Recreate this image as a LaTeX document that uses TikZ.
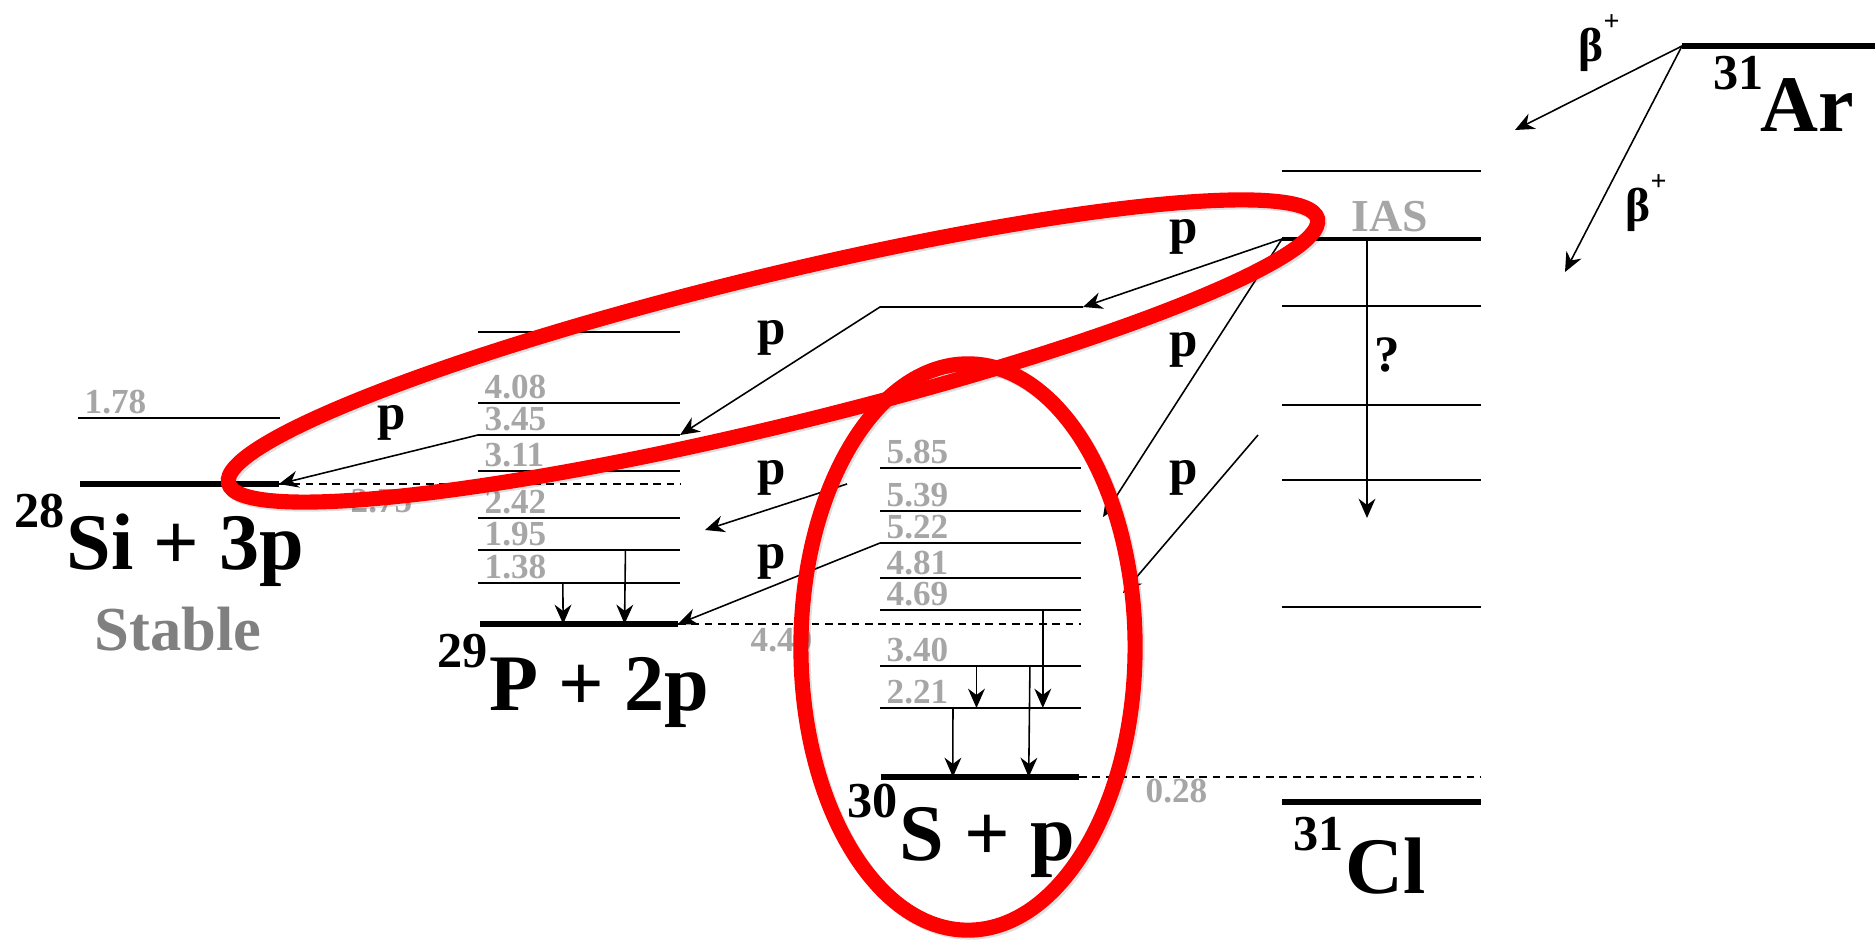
\documentclass[tikz,border=0pt]{standalone}
\usepackage{fontspec}
\setmainfont{Liberation Serif}
\usetikzlibrary{calc,arrows.meta}
\definecolor{lvlGray}{RGB}{166,166,166}
\definecolor{stableGray}{RGB}{128,128,128}
\definecolor{ringRed}{RGB}{255,0,0}
\newcommand{\nuclide}[2]{\raisebox{12pt}{\fontsize{14.3}{15}\selectfont #1}\kern0.5pt#2}
\newcommand{\betaplus}{β\raisebox{9pt}{\fontsize{8}{8}\selectfont +}}
\newcommand{\plainlevel}[4]{% name, x left, x right, y
  \coordinate (#1l) at (#2,#4);
  \coordinate (#1r) at (#3,#4);
  \draw[line width=0.55pt] (#1l) -- (#1r);}
\newcommand{\enlevel}[5]{% name, x left, x right, y, energy
  \plainlevel{#1}{#2}{#3}{#4}
  \node[lvlnum, anchor=base west] (#1t) at ($(#1l)+(6,-4)$) {#5};}
\newcommand{\groundlevel}[4]{%
  \coordinate (#1l) at (#2,#4);
  \coordinate (#1r) at (#3,#4);
  \draw[line width=1.6pt] (#1l) -- (#1r);}

\begin{document}
\begin{tikzpicture}[x=0.01cm, y=-0.01cm,
  lvlnum/.style={font=\fontsize{10}{12}\selectfont\bfseries, text=lvlGray, inner sep=0pt},
  decay/.style={line width=0.45pt, -{Stealth[length=5.5pt, width=4.8pt, inset=1.8pt]}},
  sep/.style={line width=0.45pt, dash pattern=on 2.2pt off 1.6pt},
  nucl/.style={font=\fontsize{22.8}{26}\selectfont\bfseries, inner sep=0pt, anchor=base west},
  plab/.style={font=\fontsize{14.5}{16}\selectfont\bfseries, inner sep=0pt},
  ring/.style={draw=ringRed, line width=4.3pt}]
  \useasboundingbox (0,0) rectangle (1875,940);

  % 28Si + 3p
  \enlevel{Si1}{78}{280}{418}{1.78}
  \groundlevel{SiG}{80}{279}{484}
  \node[nucl] (Si) at (14,570) {\nuclide{28}{Si + 3p}};
  \node[font=\fontsize{17.8}{20}\selectfont\bfseries, text=stableGray,
    inner sep=0pt, anchor=base] (stable) at (178,651) {Stable};

  % 29P + 2p
  \plainlevel{P0}{478}{680}{332}
  \enlevel{P1}{478}{680}{403}{4.08}
  \enlevel{P2}{478}{680}{435}{3.45}
  \enlevel{P3}{478}{680}{471}{3.11}
  \enlevel{P4}{478}{680}{518}{2.42}
  \enlevel{P5}{478}{680}{550}{1.95}
  \enlevel{P6}{478}{680}{583}{1.38}
  \groundlevel{PG}{480}{678}{624}
  \node[nucl] (P) at (437,710) {\nuclide{29}{P + 2p}};

  % 30S + p
  \enlevel{S1}{880}{1081}{468}{5.85}
  \enlevel{S2}{880}{1081}{511}{5.39}
  \enlevel{S3}{880}{1081}{543}{5.22}
  \enlevel{S4}{880}{1081}{578}{4.81}
  \enlevel{S5}{880}{1081}{610}{4.69}
  \enlevel{S6}{880}{1081}{666}{3.40}
  \enlevel{S7}{880}{1081}{708}{2.21}
  \groundlevel{SG}{881}{1079}{777}
  \node[nucl] (S) at (847,860) {\nuclide{30}{S + p}};

  % 31Cl
  \plainlevel{C1}{1282}{1481}{171}
  \coordinate (IASl) at (1282,239);
  \coordinate (IASr) at (1481,239);
  \draw[line width=0.9pt] (IASl) -- (IASr);
  \node[lvlnum, font=\fontsize{13}{15}\selectfont\bfseries, anchor=base] (IAS) at (1390,232) {IAS};
  \plainlevel{C2}{1282}{1481}{306}
  \plainlevel{C3}{1282}{1481}{405}
  \plainlevel{C4}{1282}{1481}{480}
  \plainlevel{C5}{1282}{1481}{607}
  \groundlevel{ClG}{1282}{1481}{802}
  \node[nucl] (Cl) at (1293,893) {\nuclide{31}{Cl}};

  % 31Ar
  \groundlevel{ArG}{1682}{1875}{46}
  \node[nucl] (Ar) at (1713,132) {\nuclide{31}{\kern-1.5pt Ar}};

  % thresholds
  \draw[sep] (SiGr) -- (SiGr -| P0r);
  \draw[sep] (PGr) -- (PGr -| S1r);
  \draw[sep] (SGr) -- (SGr -| ClGr);
  \node[lvlnum, anchor=base west] (q275) at (350,513) {2.75};
  \node[lvlnum, anchor=base west] (q440) at (750,652) {4.40};
  \node[lvlnum, anchor=base west] (q028) at (1145,802) {0.28};

  % gamma transitions
  \draw[decay] ($(P5l)!.73!(P5r)$) -- ($(PGl)!.73!(PGr)$);
  \draw[decay] ($(P6l)!.42!(P6r)$) -- ($(PGl)!.42!(PGr)$);
  \draw[decay] ($(S5l)!.81!(S5r)$) -- ($(S7l)!.81!(S7r)$);
  \draw[decay] ($(S6l)!.48!(S6r)$) -- ($(S7l)!.48!(S7r)$);
  \draw[decay] ($(S6l)!.746!(S6r)$) -- ($(SGl)!.746!(SGr)$);
  \draw[decay] ($(S7l)!.363!(S7r)$) -- ($(SGl)!.363!(SGr)$);
  \coordinate (qEnd) at (1367,518);
  \draw[decay] ($(IASl)!.427!(IASr)$) -- (qEnd);
  \node[plab] (qm) at (1387,355) {?};

  % beta decays
  \coordinate (b1end) at (1515,130);
  \coordinate (b2end) at (1565,272);
  \draw[decay] (ArGl) -- (b1end);
  \draw[decay] (ArGl) -- (b2end);
  \node[font=\fontsize{13.5}{15}\selectfont\bfseries, inner sep=0pt, anchor=base west] (b1) at (1578,62) {\betaplus};
  \node[font=\fontsize{13.5}{15}\selectfont\bfseries, inner sep=0pt, anchor=base west] (b2) at (1625,222) {\betaplus};

  % proton emission
  \coordinate (k1) at (1083,307);
  \coordinate (k2) at (880,307);
  \draw[decay] (IASl) -- (k1);
  \draw[decay] (k1) -- (k2) -- (P2r);
  \draw[decay] (P2l) -- (SiGr);
  \coordinate (pa) at (847,484);
  \coordinate (pb) at (705,530);
  \draw[decay] (pa) -- (pb);
  \draw[decay] (S3l) -- (PGr);
  \coordinate (pc) at (1103,517);
  \draw[decay] (IASl) -- (pc);
  \coordinate (pd) at (1258,435);
  \coordinate (pe) at (1123,593);
  \draw[decay] (pd) -- (pe);
  \node[plab] (p1) at (392,423) {p};
  \node[plab] (p2) at (772,338) {p};
  \node[plab] (p3) at (772,478) {p};
  \node[plab] (p4) at (772,562) {p};
  \node[plab] (p5) at (1184,237) {p};
  \node[plab] (p6) at (1184,350) {p};
  \node[plab] (p7) at (1184,478) {p};

  % highlight rings
  \draw[ring, draw=black, opacity=0.12, rotate around={13.66:(775,353)}] (775,353) ellipse [x radius=5.6cm, y radius=0.75cm];
  \draw[ring, draw=black, opacity=0.12] (970,649) ellipse [x radius=1.67cm, y radius=2.83cm];
  \draw[ring, rotate around={13.66:(773,351)}] (773,351) ellipse [x radius=5.6cm, y radius=0.75cm];
  \draw[ring] (968,647) ellipse [x radius=1.67cm, y radius=2.83cm];
\end{tikzpicture}
\end{document}
